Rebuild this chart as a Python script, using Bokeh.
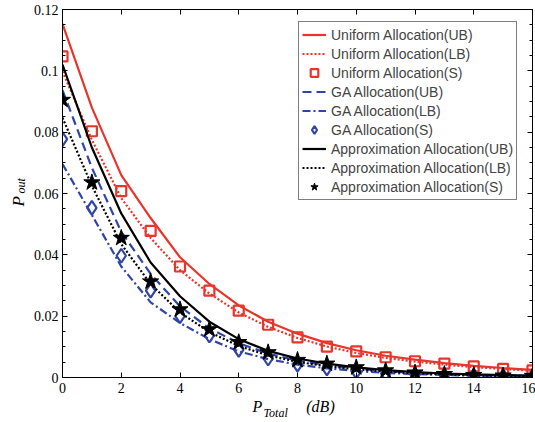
import math
from bokeh.plotting import figure
from bokeh.models import (LinearAxis, FixedTicker, Legend, LegendItem, Title, Range1d)
from bokeh.embed import file_html
from bokeh.resources import INLINE

# ---------------- data ----------------
p_total = [0, 1, 2, 3, 4, 5, 6, 7, 8, 9, 10, 11, 12, 13, 14, 15, 16]

uniform_ub = [0.1153, 0.0880, 0.0660, 0.0520, 0.0392, 0.0305, 0.0235, 0.0182, 0.0143,
              0.0112, 0.0089, 0.0071, 0.0058, 0.0047, 0.0038, 0.0031, 0.0025]
uniform_lb = [0.0998, 0.0775, 0.0585, 0.0455, 0.0350, 0.0274, 0.0212, 0.0165, 0.0129,
              0.0101, 0.0080, 0.0064, 0.0052, 0.0042, 0.0034, 0.0028, 0.0022]
uniform_s = [0.1047, 0.0803, 0.0608, 0.0478, 0.0362, 0.0283, 0.0218, 0.0172, 0.0131,
             0.0101, 0.0085, 0.0066, 0.0053, 0.0045, 0.0036, 0.0028, 0.0023]

ga_ub = [0.0937, 0.0684, 0.0475, 0.0338, 0.0232, 0.0160, 0.0112, 0.0078, 0.0055,
         0.0040, 0.0029, 0.0021, 0.0015, 0.0011, 0.0008, 0.0006, 0.0005]
ga_lb = [0.0696, 0.0530, 0.0362, 0.0245, 0.0178, 0.0125, 0.0085, 0.0060, 0.0042,
         0.0030, 0.0021, 0.0015, 0.0011, 0.0008, 0.0006, 0.0004, 0.0003]
ga_s = [0.0777, 0.0553, 0.0397, 0.0283, 0.0200, 0.0137, 0.0090, 0.0062, 0.0042,
        0.0030, 0.0019, 0.0013, 0.0009, 0.0007, 0.0005, 0.0004, 0.0003]

approx_ub = [0.1020, 0.0750, 0.0535, 0.0375, 0.0265, 0.0182, 0.0125, 0.0087, 0.0062,
             0.0045, 0.0033, 0.0024, 0.0018, 0.0013, 0.0010, 0.0008, 0.0006]
approx_lb = [0.0847, 0.0625, 0.0435, 0.0305, 0.0212, 0.0148, 0.0103, 0.0072, 0.0051,
             0.0037, 0.0027, 0.0019, 0.0014, 0.0010, 0.0007, 0.0005, 0.0004]
approx_s = [0.0905, 0.0636, 0.0455, 0.0313, 0.0222, 0.0157, 0.0115, 0.0082, 0.0057,
            0.0045, 0.0033, 0.0023, 0.0016, 0.0011, 0.0008, 0.0006, 0.0005]

x_ticks = [0, 2, 4, 6, 8, 10, 12, 14, 16]
y_ticks = [0, 0.02, 0.04, 0.06, 0.08, 0.1, 0.12]
y_tick_labels = ["0", "0.02", "0.04", "0.06", "0.08", "0.1", "0.12"]
y_minor = [0.005 * i for i in range(25)]

labels = ["Uniform Allocation(UB)", "Uniform Allocation(LB)", "Uniform Allocation(S)",
          "GA Allocation(UB)", "GA Allocation(LB)", "GA Allocation(S)",
          "Approximation Allocation(UB)", "Approximation Allocation(LB)",
          "Approximation Allocation(S)"]

RED = "#e8352b"
BLUE = "#2f45a8"
BLACK = "#000000"
SERIF = "Liberation Serif"

p = figure(width=535, height=422, output_backend="svg", toolbar_location=None,
           x_range=Range1d(0, 16), y_range=Range1d(0, 0.12),
           min_border_left=62, min_border_right=3, min_border_top=9, min_border_bottom=45,
           background_fill_color="white", border_fill_color="white")
p.grid.visible = False
p.outline_line_color = "black"
p.outline_line_width = 1


def style_axis(ax, show_labels=True):
    ax.major_tick_in = 5
    ax.major_tick_out = 0
    ax.minor_tick_in = 3
    ax.minor_tick_out = 0
    ax.axis_line_color = "black"
    ax.major_tick_line_color = "black"
    ax.minor_tick_line_color = "black"
    ax.major_label_text_font = SERIF
    ax.major_label_text_font_size = "14px" if show_labels else "0px"
    ax.major_label_text_color = "black"
    ax.major_label_standoff = 5 if show_labels else 0


# primary axes
xa = p.xaxis[0]
ya = p.yaxis[0]
xa.ticker = FixedTicker(ticks=x_ticks, minor_ticks=[])
ya.ticker = FixedTicker(ticks=y_ticks, minor_ticks=y_minor)
ya.major_label_overrides = {t: s for t, s in zip(y_ticks, y_tick_labels)}
style_axis(xa)
style_axis(ya)
ya.major_label_standoff = 4

# mirrored axes
top = LinearAxis(ticker=FixedTicker(ticks=x_ticks, minor_ticks=[]))
right = LinearAxis(ticker=FixedTicker(ticks=y_ticks, minor_ticks=y_minor))
style_axis(top, False)
style_axis(right, False)
top.major_label_overrides = {t: "" for t in x_ticks}
right.major_label_overrides = {t: "" for t in y_ticks}
p.add_layout(top, "above")
p.add_layout(right, "right")

lw = 2.2
r1 = p.line(p_total, uniform_ub, line_color=RED, line_width=lw)
r2 = p.line(p_total, uniform_lb, line_color=RED, line_width=lw, line_dash="2 2")
r3 = p.scatter(p_total, uniform_s, marker="square", size=10, fill_color=None,
               line_color=RED, line_width=2.2)
r4 = p.line(p_total, ga_ub, line_color=BLUE, line_width=lw, line_dash="9 5")
r5 = p.line(p_total, ga_lb, line_color=BLUE, line_width=lw, line_dash="8 3 2 3")
r6 = p.scatter(p_total, ga_s, marker="diamond", size=14, fill_color=None,
               line_color=BLUE, line_width=2.2)
r7 = p.line(p_total, approx_ub, line_color=BLACK, line_width=lw)
r8 = p.line(p_total, approx_lb, line_color=BLACK, line_width=lw, line_dash="2 2")
r9 = p.scatter(p_total, approx_s, marker="star", size=17, fill_color=BLACK,
               line_color=BLACK, line_width=1)

renderers = [r1, r2, r3, r4, r5, r6, r7, r8, r9]
legend = Legend(items=[LegendItem(label=l, renderers=[r]) for l, r in zip(labels, renderers)],
                location=(236, 177), orientation="vertical",
                label_text_font="Liberation Sans", label_text_font_size="14px",
                label_height=19, glyph_height=19, glyph_width=24, label_standoff=5,
                spacing=0, padding=3, margin=0,
                border_line_color="black", border_line_width=1,
                background_fill_color="white", background_fill_alpha=1)
p.add_layout(legend, "center")

# axis labels as side-panel titles (italic math style pieces)
NBSP = "\u00a0"
t_p = Title(text="P" + NBSP * 11 + "(dB)", align="left", offset=190, standoff=0,
            text_font=SERIF, text_font_style="italic", text_font_size="16px",
            text_color="black")
t_total = Title(text="Total", align="left", offset=201, standoff=-18,
                vertical_align="top",
                text_font=SERIF, text_font_style="italic", text_font_size="12px",
                text_color="black")
p.add_layout(t_p, "below")
p.add_layout(t_total, "below")

t_out = Title(text="out", align="left", offset=184, standoff=5,
              text_font=SERIF, text_font_style="italic", text_font_size="12px",
              text_color="black")
t_py = Title(text="P", align="left", offset=171, standoff=-37,
             text_font=SERIF, text_font_style="italic", text_font_size="17px",
             text_color="black")
p.add_layout(t_out, "left")
p.add_layout(t_py, "left")

open("out.html", "w").write(file_html(p, INLINE))
